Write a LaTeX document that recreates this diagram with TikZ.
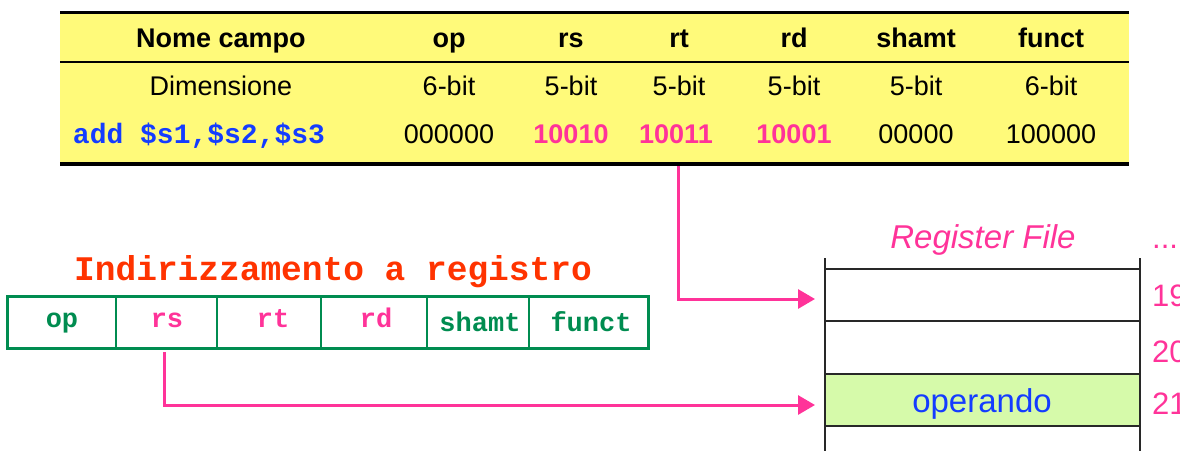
\documentclass[tikz,border=0pt]{standalone}
\usepackage{fontspec}
\setmainfont{Liberation Sans}
\newfontfamily\monofont{Liberation Mono}
\usetikzlibrary{arrows.meta}
\definecolor{tabyellow}{RGB}{255,250,122}
\definecolor{fgreen}{RGB}{0,140,80}
\definecolor{fpink}{RGB}{255,51,153}
\definecolor{fred}{RGB}{255,51,0}
\definecolor{fblue}{RGB}{20,60,255}
\definecolor{regfill}{RGB}{214,250,170}
\definecolor{reggray}{RGB}{40,40,40}
\tikzset{
  cell/.style={inner sep=0pt, anchor=base, font=\fontsize{27}{30}\selectfont},
  hcell/.style={cell, font=\fontsize{27}{30}\selectfont\bfseries},
  pcell/.style={hcell, text=fpink},
  fld/.style={inner sep=0pt, anchor=base, font=\fontsize{27}{30}\selectfont\monofont\bfseries},
  num/.style={inner sep=0pt, anchor=base west, text=fpink, font=\fontsize{31}{34}\selectfont},
  arr/.style={draw=fpink, line width=3pt, -{Triangle[length=17pt,width=19pt]}},
  regline/.style={draw=reggray, line width=1.4pt},
}
\begin{document}
\begin{tikzpicture}[x=1pt,y=-1pt]
\useasboundingbox (0,0) rectangle (1180,450);
\clip (0,0) rectangle (1180,450);
% ---------- top table ----------
\fill[tabyellow] (60,12) rectangle (1129,164);
\draw[line width=3pt] (60,12) -- (1129,12);
\draw[line width=1.6pt] (60,62) -- (1129,62);
\draw[line width=4pt] (60,164) -- (1129,164);
\node[hcell] (hname) at (221,47) {Nome campo};
\node[hcell] (hop) at (449,47) {op};
\node[hcell] (hrs) at (571,47) {rs};
\node[hcell] (hrt) at (679,47) {rt};
\node[hcell] (hrd) at (794,47) {rd};
\node[hcell] (hsh) at (916,47) {shamt};
\node[hcell] (hfu) at (1051,47) {funct};
\node[cell] (dname) at (221,95) {Dimensione};
\node[cell] (dop) at (449,95) {6-bit};
\node[cell] (drs) at (571,95) {5-bit};
\node[cell] (drt) at (679,95) {5-bit};
\node[cell] (drd) at (794,95) {5-bit};
\node[cell] (dsh) at (916,95) {5-bit};
\node[cell] (dfu) at (1051,95) {6-bit};
\node[inner sep=0pt, anchor=base, text=fblue, font=\fontsize{28}{30}\selectfont\monofont\bfseries] (vname) at (199,143) {add \$s1,\$s2,\$s3};
\node[cell] (vop) at (449,143) {000000};
\node[pcell] (vrs) at (571,143) {10010};
\node[pcell] (vrt) at (676,143) {10011};
\node[pcell] (vrd) at (794,143) {10001};
\node[cell] (vsh) at (916,143) {00000};
\node[cell] (vfu) at (1051,143) {100000};
% ---------- instruction format ----------
\node[inner sep=0pt, anchor=base, text=fred, font=\fontsize{34.5}{37}\selectfont\monofont\bfseries] (title) at (333,280) {Indirizzamento a registro};
\draw[fgreen, line width=1.2pt] (116,296) -- (116,348) (217,296) -- (217,348) (321,296) -- (321,348) (427,296) -- (427,348) (529,296) -- (529,348);
\draw[fgreen, line width=3pt] (7,296) rectangle (648,348);
\node[fld, text=fgreen] (fop) at (62,327) {op};
\node[fld, text=fpink] (frs) at (167,327) {rs};
\node[fld, text=fpink] (frt) at (273,327) {rt};
\node[fld, text=fpink] (frd) at (376,327) {rd};
\node[fld, text=fgreen] (fsh) at (480,331) {shamt};
\node[fld, text=fgreen] (ffu) at (591,331) {funct};
% ---------- register file ----------
\fill[regfill] (825,374) rectangle (1140,426);
\draw[regline] (825,258) -- (825,452) (1140,258) -- (1140,452);
\draw[regline] (825,269) -- (1140,269) (825,321) -- (1140,321) (825,374) -- (1140,374) (825,426) -- (1140,426);
\node[inner sep=0pt, anchor=base, text=fpink, font=\fontsize{33}{36}\selectfont\itshape] (rftitle) at (983,248) {Register File};
\node[inner sep=0pt, anchor=base, text=fblue, font=\fontsize{33}{36}\selectfont] (operando) at (982,412) {operando};
\node[num] (dots) at (1152,248) {...};
\node[num] (n19) at (1152,306) {19};
\node[num] (n20) at (1152,362) {20};
\node[num] (n21) at (1152,414) {21};
% ---------- connectors ----------
\coordinate (rtfoot) at (678,166);
\coordinate (in19) at (815,299);
\coordinate (rsfoot) at (164,352);
\coordinate (in21) at (815,405);
\draw[arr] (rtfoot) |- (in19);
\draw[arr] (rsfoot) |- (in21);
\end{tikzpicture}
\end{document}
